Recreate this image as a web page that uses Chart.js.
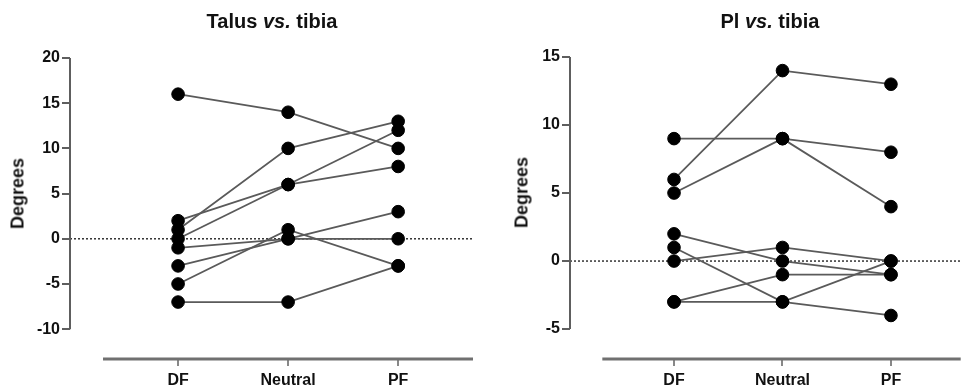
<!DOCTYPE html>
<html>
<head>
<meta charset="utf-8">
<script src="https://cdn.jsdelivr.net/npm/chart.js@4.4.1/dist/chart.umd.min.js"></script>
<style>
  body { margin: 0; background: #fff; font-family: "Liberation Sans", Arial, sans-serif; }
  #wrap { position: relative; width: 968px; height: 389px; overflow: hidden; }
  .panel { position: absolute; top: 0; width: 484px; height: 389px; }
  .title { position: absolute; top: 10px; width: 220px; text-align: center; font-weight: bold; font-size: 20px; color: #111; }
  .ylab { position: absolute; width: 100px; text-align: center; font-weight: bold; font-size: 18px; color: #111; transform: rotate(-90deg); }
</style>
</head>
<body>
<div id="wrap">
  <div class="panel" style="left:0">
    <canvas id="chartTalus" width="484" height="389"></canvas>
  </div>
  <div class="panel" style="left:484px">
    <canvas id="chartPl" width="484" height="389"></canvas>
  </div>
  <div class="title" style="left:162px">Talus <i>vs.</i> tibia</div>
  <div class="title" style="left:660px">Pl <i>vs.</i> tibia</div>
  <div class="ylab" style="left:-32px; top:183px">Degrees</div>
  <div class="ylab" style="left:472px; top:182px">Degrees</div>
</div>

<script>
// categories on the x axis
const kategorien = ['DF', 'Neutral', 'PF'];

// one row per subject: DF, Neutral, PF
const talusWerte = [
  [16, 14, 10],
  [1, 10, 13],
  [2, 6, 8],
  [0, 6, 12],
  [-1, 0, 0],
  [-3, 0, 3],
  [-5, 1, -3],
  [-7, -7, -3]
];

const plWerte = [
  [6, 14, 13],
  [9, 9, 8],
  [5, 9, 4],
  [2, 0, -1],
  [1, -3, -4],
  [0, 1, 0],
  [-3, -1, -1],
  [-3, -3, 0]
];

// y tick labels
const talusTicks = [-10, -5, 0, 5, 10, 15, 20];
const plTicks = [-5, 0, 5, 10, 15];

// axis lines drawn prism style: y line only over the tick range, x line offset
const prismAxes = {
  id: 'prismAxes',
  afterDraw(chart, args, opts) {
    const { ctx, chartArea } = chart;
    const x = chart.scales.x, y = chart.scales.y;
    ctx.save();
    ctx.strokeStyle = '#5e5e5e';
    ctx.lineWidth = 2;
    ctx.beginPath();
    ctx.moveTo(y.right, y.getPixelForValue(opts.yTop));
    ctx.lineTo(y.right, y.getPixelForValue(opts.yBottom));
    ctx.stroke();
    ctx.lineWidth = 3;
    ctx.strokeStyle = '#707070';
    ctx.beginPath();
    ctx.moveTo(x.getPixelForValue(opts.xStart), chartArea.bottom);
    ctx.lineTo(x.right, chartArea.bottom);
    ctx.stroke();
    ctx.restore();
  }
};

function makeChart(id, werte, yTicks, cfg) {
  const datasets = [];

  // dotted zero line
  datasets.push({
    type: 'line',
    data: [{ x: cfg.xMin, y: 0 }, { x: cfg.xMax, y: 0 }],
    borderColor: '#333',
    borderWidth: 1.5,
    borderDash: [2, 2],
    pointRadius: 0,
    order: 3
  });

  werte.forEach(reihe => {
    datasets.push({
      type: 'line',
      data: reihe.map((v, i) => ({ x: i + 1, y: v })),
      borderColor: '#5a5a5a',
      borderWidth: 1.8,
      pointRadius: 0,
      clip: false,
      order: 2
    });
  });

  const punkte = [];
  werte.forEach(reihe => reihe.forEach((v, i) => punkte.push({ x: i + 1, y: v })));
  datasets.push({
    type: 'scatter',
    data: punkte,
    backgroundColor: '#000',
    borderColor: '#000',
    pointRadius: 6.3,
    clip: false,
    order: 1
  });

  return new Chart(document.getElementById(id), {
    type: 'line',
    data: { datasets },
    plugins: [prismAxes],
    options: {
      responsive: false,
      animation: false,
      layout: { padding: { top: cfg.padTop, right: cfg.padRight, left: 0, bottom: 0 } },
      plugins: {
        legend: { display: false },
        tooltip: { enabled: false },
        prismAxes: { yTop: yTicks[yTicks.length - 1], yBottom: yTicks[0], xStart: cfg.xStart }
      },
      scales: {
        x: {
          type: 'linear',
          min: cfg.xMin,
          max: cfg.xMax,
          afterBuildTicks: s => { s.ticks = kategorien.map((k, i) => ({ value: i + 1 })); },
          afterFit: s => { s.height = 30; },
          border: { display: false },
          grid: { drawOnChartArea: false, drawTicks: true, tickLength: 7, tickColor: '#888', lineWidth: 2 },
          ticks: {
            autoSkip: false,
            padding: 5,
            color: '#111',
            font: { family: 'Liberation Sans', size: 16, weight: 'bold' },
            callback: v => kategorien[v - 1]
          }
        },
        y: {
          min: cfg.yMin,
          max: yTicks[yTicks.length - 1],
          afterBuildTicks: s => { s.ticks = yTicks.map(v => ({ value: v })); },
          afterFit: s => { s.width = cfg.yWidth; },
          border: { display: false },
          grid: { drawOnChartArea: false, drawTicks: true, tickLength: 8, tickColor: '#5e5e5e', lineWidth: 2 },
          ticks: {
            autoSkip: false,
            padding: 2,
            color: '#111',
            font: { family: 'Liberation Sans', size: 16, weight: 'bold' }
          }
        }
      }
    }
  });
}

makeChart('chartTalus', talusWerte, talusTicks, {
  padTop: 58, padRight: 11, yWidth: 70,
  yMin: -13.3, xMin: 0.018, xMax: 3.68, xStart: 0.318
});

makeChart('chartPl', plWerte, plTicks, {
  padTop: 57, padRight: 0, yWidth: 86,
  yMin: -7.2, xMin: 0.041, xMax: 3.643, xStart: 0.339
});
</script>
</body>
</html>
